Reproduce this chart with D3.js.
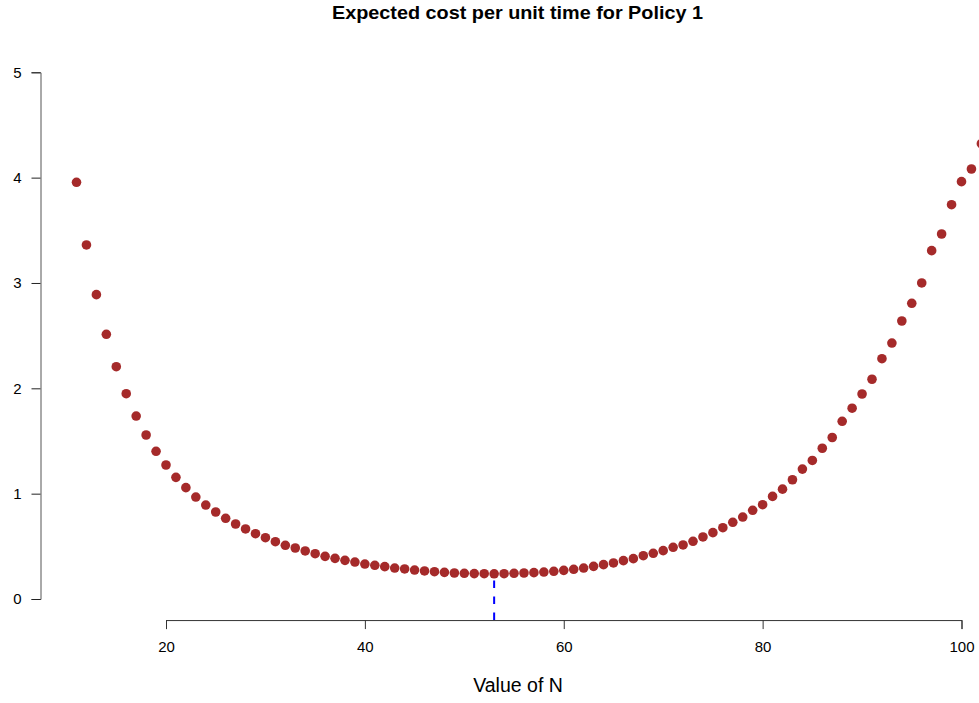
<!DOCTYPE html>
<html>
<head>
<meta charset="utf-8">
<script src="https://cdn.jsdelivr.net/npm/d3@7"></script>
<style>
  body { margin: 0; background: #fff; }
  svg { display: block; font-family: "Liberation Sans", Arial, sans-serif; }
</style>
</head>
<body>
<div id="chart"></div>
<script>
// N values (11..102) and the expected cost
const nValues = d3.range(11, 103);
const costValues = [
  3.956, 3.361, 2.889, 2.513, 2.205, 1.949, 1.737, 1.557, 1.402, 1.272,
  1.155, 1.057, 0.968, 0.892, 0.826, 0.766, 0.712, 0.665, 0.620, 0.582,
  0.544, 0.510, 0.484, 0.456, 0.430, 0.405, 0.386, 0.367, 0.351, 0.332,
  0.320, 0.307, 0.294, 0.285, 0.275, 0.266, 0.259, 0.253, 0.247, 0.244,
  0.241, 0.240, 0.239, 0.240, 0.244, 0.247, 0.250, 0.256, 0.263, 0.272,
  0.282, 0.294, 0.310, 0.326, 0.342, 0.364, 0.383, 0.411, 0.434, 0.459,
  0.491, 0.513, 0.548, 0.589, 0.630, 0.677, 0.728, 0.778, 0.842, 0.895,
  0.974, 1.043, 1.132, 1.233, 1.315, 1.431, 1.533, 1.687, 1.811, 1.946,
  2.086, 2.281, 2.430, 2.639, 2.807, 3.000, 3.307, 3.465, 3.743, 3.962,
  4.082, 4.322
];
const xTicks = [20, 40, 60, 80, 100];
const yTicks = [0, 1, 2, 3, 4, 5];
const optimalN = 53;

const width = 979, height = 703;

const svg = d3.select('#chart')
  .append('svg')
  .attr('width', width)
  .attr('height', height);

// scales set so that the usr box matches the R plot region
const x = d3.scaleLinear().domain([20, 100]).range([166, 961.5]);
const y = d3.scaleLinear().domain([0, 5]).range([599, 72.3]);

const axisY = y(-0.2); // bottom of plot region (x axis sits here)
const axisX = 40.5;    // left edge of plot region

// title
svg.append('text')
  .attr('x', 517.5)
  .attr('y', 18.5)
  .attr('text-anchor', 'middle')
  .attr('font-weight', 'bold')
  .attr('font-size', '18.5px')
  .attr('textLength', 371)
  .attr('lengthAdjust', 'spacingAndGlyphs')
  .text('Expected cost per unit time for Policy 1');

// x axis
const xAxis = svg.append('g')
  .attr('transform', `translate(0, ${axisY})`)
  .call(d3.axisBottom(x).tickValues(xTicks).tickSize(9).tickPadding(12).tickFormat(d3.format('d')));
xAxis.select('.domain').attr('stroke', '#333');
xAxis.selectAll('.tick line').attr('stroke', '#333');
xAxis.selectAll('text').attr('font-size', '15px').attr('fill', '#000')
  .attr('font-family', '"Liberation Sans", Arial, sans-serif');

// y axis
const yAxis = svg.append('g')
  .attr('transform', `translate(${axisX}, 0)`)
  .call(d3.axisLeft(y).tickValues(yTicks).tickSize(9).tickPadding(10).tickFormat(d3.format('d')));
yAxis.select('.domain').attr('stroke', '#555');
yAxis.selectAll('.tick line').attr('stroke', '#222');
yAxis.selectAll('text').attr('font-size', '15px').attr('fill', '#000')
  .attr('font-family', '"Liberation Sans", Arial, sans-serif');

// x label
svg.append('text')
  .attr('x', 518)
  .attr('y', 692)
  .attr('text-anchor', 'middle')
  .attr('font-size', '19.5px')
  .text('Value of N');

// dashed marker at the optimum
const minCost = costValues[nValues.indexOf(optimalN)];
svg.append('line')
  .attr('x1', x(optimalN)).attr('x2', x(optimalN))
  .attr('y1', axisY).attr('y2', y(minCost))
  .attr('stroke', '#0000ff')
  .attr('stroke-width', 2)
  .attr('stroke-dasharray', '7.5,8.5');

// points
svg.append('g')
  .selectAll('circle')
  .data(nValues.map((n, i) => ({n: n, cost: costValues[i]})))
  .enter()
  .append('circle')
  .attr('cx', d => x(d.n))
  .attr('cy', d => y(d.cost))
  .attr('r', 4.8)
  .attr('fill', '#a52a2a');
</script>
</body>
</html>
